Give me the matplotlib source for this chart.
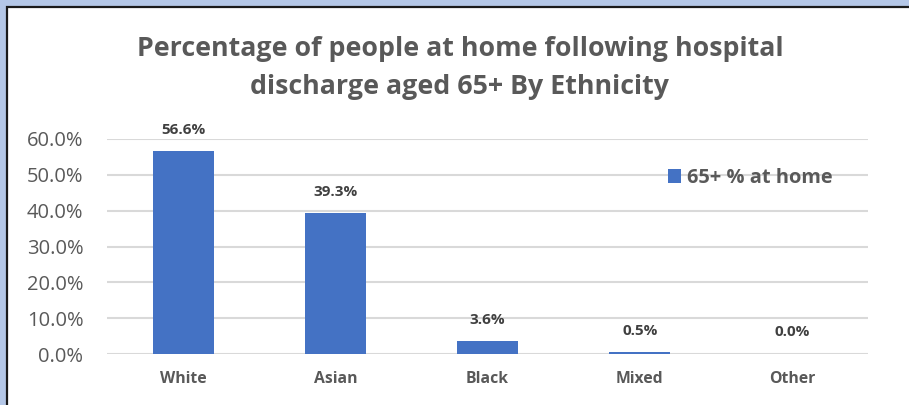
import matplotlib
matplotlib.use("Agg")
import matplotlib.pyplot as plt
from matplotlib.patches import Rectangle
from matplotlib.ticker import FuncFormatter

categories = ["White", "Asian", "Black", "Mixed", "Other"]
pct_at_home = [56.6, 39.3, 3.6, 0.5, 0.0]
series_name = "65+ % at home"
title = "Percentage of people at home following hospital\ndischarge aged 65+ By Ethnicity"

W, H = 909, 405
plt.rcParams["font.family"] = ["Open Sans", "DejaVu Sans"]
fig = plt.figure(figsize=(W / 100, H / 100), dpi=100)
fig.patch.set_facecolor("#b4c7e7")

# white chart area with dark border, cut off at right/bottom
fig.patches.append(Rectangle((7 / W, -0.1), 1.2, 1 - 7 / H + 0.1,
                             transform=fig.transFigure, facecolor="white",
                             edgecolor="#1a1a1a", linewidth=1.6, zorder=-5))

ax = fig.add_axes([107 / W, 1 - 354 / H, 761 / W, 215 / H])
ax.set_zorder(2)
ax.patch.set_alpha(0)
x = range(len(categories))
bars = ax.bar(x, pct_at_home, width=0.4, color="#4472c4", label=series_name, zorder=3)
ax.set_xlim(-0.5, len(categories) - 0.5)
ax.set_ylim(0, 60)
ax.set_yticks(range(0, 61, 10))
ax.yaxis.set_major_formatter(FuncFormatter(lambda v, p: f"{v:.1f}%"))
ax.grid(axis="y", color="#d9d9d9", linewidth=1.5, zorder=0)
for s in ax.spines.values():
    s.set_visible(False)
ax.tick_params(length=0)
ax.tick_params(axis="y", labelsize=14.5, labelcolor="#595959", pad=17)
ax.set_xticks(list(x))
ax.set_xticklabels(categories, fontsize=11.3, fontweight="bold", color="#595959")
ax.tick_params(axis="x", pad=12)

for b, v in zip(bars, pct_at_home):
    ax.annotate(f"{v:.1f}%", xy=(b.get_x() + b.get_width() / 2, v),
                xytext=(0, 15.5), textcoords="offset points", ha="center", va="center",
                fontsize=11, fontweight="bold", color="#404040", annotation_clip=False)

fig.text(460 / W, 1 - 68 / H, title, ha="center", va="center", fontsize=19.3,
         fontweight="bold", color="#595959", linespacing=1.6)

leg = ax.legend(loc="center left", bbox_to_anchor=(658 / W, 1 - 178 / H),
                bbox_transform=fig.transFigure, frameon=False,
                handlelength=0.65, handleheight=0.65, handletextpad=0.3,
                borderpad=0, prop={"weight": "bold", "size": 14.4})
for t in leg.get_texts():
    t.set_color("#595959")

fig.savefig("out.png", dpi=100, facecolor=fig.get_facecolor())
